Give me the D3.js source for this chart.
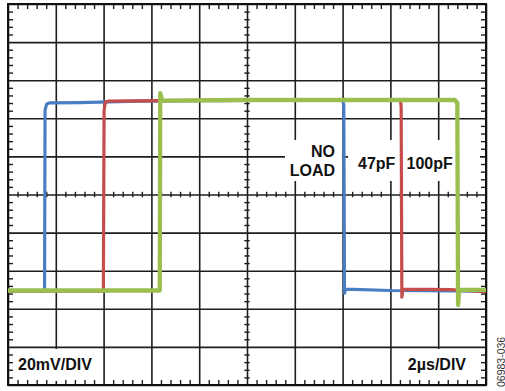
<!DOCTYPE html>
<html><head><meta charset="utf-8">
<script src="https://cdn.jsdelivr.net/npm/d3@7"></script>
<style>
html,body{margin:0;padding:0;background:#fff;}
svg{display:block;}
text{font-family:"Liberation Sans",Arial,sans-serif;}
</style></head>
<body>
<svg id="chart" width="505" height="391"></svg>
<script>
// time in µs, voltage in mV
const timeDomain = [0, 20];
const voltDomain = [-100, 100];
const majorTimeTicks = [0,2,4,6,8,10,12,14,16,18,20];
const majorVoltTicks = [-100,-80,-60,-40,-20,0,20,40,60,80,100];

const blueT = [0, 1.53, 1.55, 1.62, 1.75, 3.0, 5.5, 8.0, 14.0, 14.05, 14.08, 14.12, 16.0, 20];
const blueV = [-50.7, -50.7, 44.3, 47.5, 48.1, 48.2, 49.0, 49.3, 49.6, 47.0, -51.8, -49.7, -50.4, -50.7];

const redT = [0, 3.99, 4.02, 4.07, 4.2, 8.0, 16.42, 16.45, 16.48, 16.52, 18.5, 20];
const redV = [-50.7, -50.7, 44.0, 48.5, 49.0, 49.4, 49.6, 46.0, -53.9, -49.7, -49.9, -51.0];

const greenT = [0, 6.35, 6.37, 6.45, 10.0, 18.7, 18.8, 18.83, 18.88, 20];
const greenV = [-50.4, -50.4, 53.2, 49.3, 49.6, 49.6, 48.0, -58.0, -50.1, -50.1];

const seriesNames = ["NO LOAD", "47pF", "100pF"];
const seriesColors = ["#4a7ec4", "#c64b4b", "#9bbf4f"];
const scaleLabels = ["20mV/DIV", "2µs/DIV"];
const figureCode = "06983-036";

const svg = d3.select("#chart");
const L = 8, R = 486, T = 4, B = 385;
const x = d3.scaleLinear().domain(timeDomain).range([L, R]);
const y = d3.scaleLinear().domain(voltDomain).range([B, T]);

// major grid
const gx = svg.append("g").attr("transform", `translate(0,${B})`)
  .call(d3.axisBottom(x).tickValues(majorTimeTicks).tickSize(-(B - T)).tickFormat(""));
const gy = svg.append("g").attr("transform", `translate(${L},0)`)
  .call(d3.axisLeft(y).tickValues(majorVoltTicks).tickSize(-(R - L)).tickFormat(""));
[gx, gy].forEach(g => {
  g.select(".domain").remove();
  g.selectAll("line").attr("stroke", "#1e1e1e").attr("stroke-width", 1.6);
});

// white label boxes
const boxes = [[285, 140, 57, 41], [348, 140, 132, 41], [14, 349, 82, 32], [396, 349, 84, 32]];
svg.selectAll("rect.box").data(boxes).enter().append("rect").attr("class", "box")
  .attr("x", d => d[0]).attr("y", d => d[1]).attr("width", d => d[2]).attr("height", d => d[3])
  .attr("fill", "#fff");

// minor ticks (5 per division)
const minorT = d3.range(0, 51).filter(i => i % 5 !== 0).map(i => i * 0.4);
const minorV = d3.range(-25, 26).filter(i => i % 5 !== 0).map(i => i * 4);

function styleAxis(g) {
  g.select(".domain").remove();
  g.selectAll("line").attr("stroke", "#1e1e1e").attr("stroke-width", 1.4);
}
svg.append("g").attr("transform", `translate(0,${T})`)
  .call(d3.axisTop(x).tickValues(minorT).tickSize(-5).tickFormat("")).call(styleAxis);
svg.append("g").attr("transform", `translate(0,${B})`)
  .call(d3.axisBottom(x).tickValues(minorT).tickSize(-5).tickFormat("")).call(styleAxis);
svg.append("g").attr("transform", `translate(${L},0)`)
  .call(d3.axisLeft(y).tickValues(minorV).tickSize(-5).tickFormat("")).call(styleAxis);
svg.append("g").attr("transform", `translate(${R},0)`)
  .call(d3.axisRight(y).tickValues(minorV).tickSize(-5).tickFormat("")).call(styleAxis);

// center ticks
const cx = svg.append("g").attr("transform", `translate(0,${y(0)})`)
  .call(d3.axisBottom(x).tickValues(minorT).tickSize(5).tickFormat("")).call(styleAxis);
cx.selectAll("line").attr("y1", -2.7).attr("y2", 2.7);
const cy = svg.append("g").attr("transform", `translate(${x(10)},0)`)
  .call(d3.axisLeft(y).tickValues(minorV).tickSize(5).tickFormat("")).call(styleAxis);
cy.selectAll("line").attr("x1", -2.7).attr("x2", 2.7);

// frame
svg.append("rect").attr("x", L).attr("y", T).attr("width", R - L).attr("height", B - T)
  .attr("fill", "none").attr("stroke", "#111").attr("stroke-width", 2);

// traces
const line = d3.line().x(d => x(d[0])).y(d => y(d[1]));
const traces = [
  {t: blueT, v: blueV, c: seriesColors[0], w: 3.2},
  {t: redT, v: redV, c: seriesColors[1], w: 3.2},
  {t: greenT, v: greenV, c: seriesColors[2], w: 4.3}
];
traces.forEach(s => {
  svg.append("path").datum(s.t.map((t, i) => [t, s.v[i]]))
    .attr("d", line).attr("fill", "none").attr("stroke", s.c)
    .attr("stroke-width", s.w).attr("stroke-linejoin", "round").attr("stroke-linecap", "butt");
});

// labels
const lab = svg.append("g").attr("font-weight", "bold").attr("font-size", 16).attr("fill", "#111");
lab.append("text").attr("x", 335).attr("y", 157).attr("text-anchor", "end").text("NO");
lab.append("text").attr("x", 335).attr("y", 176).attr("text-anchor", "end").text("LOAD");
lab.append("text").attr("x", 358).attr("y", 168.5).text(seriesNames[1]);
lab.append("text").attr("x", 406.5).attr("y", 168.5).text(seriesNames[2]);
lab.append("text").attr("x", 18).attr("y", 370).text(scaleLabels[0]);
lab.append("text").attr("x", 466).attr("y", 370).attr("text-anchor", "end").text(scaleLabels[1]);

svg.append("text").attr("transform", "translate(504.5,387) rotate(-90)")
  .attr("font-size", 10.5).attr("fill", "#333").text(figureCode);
</script>
</body></html>
